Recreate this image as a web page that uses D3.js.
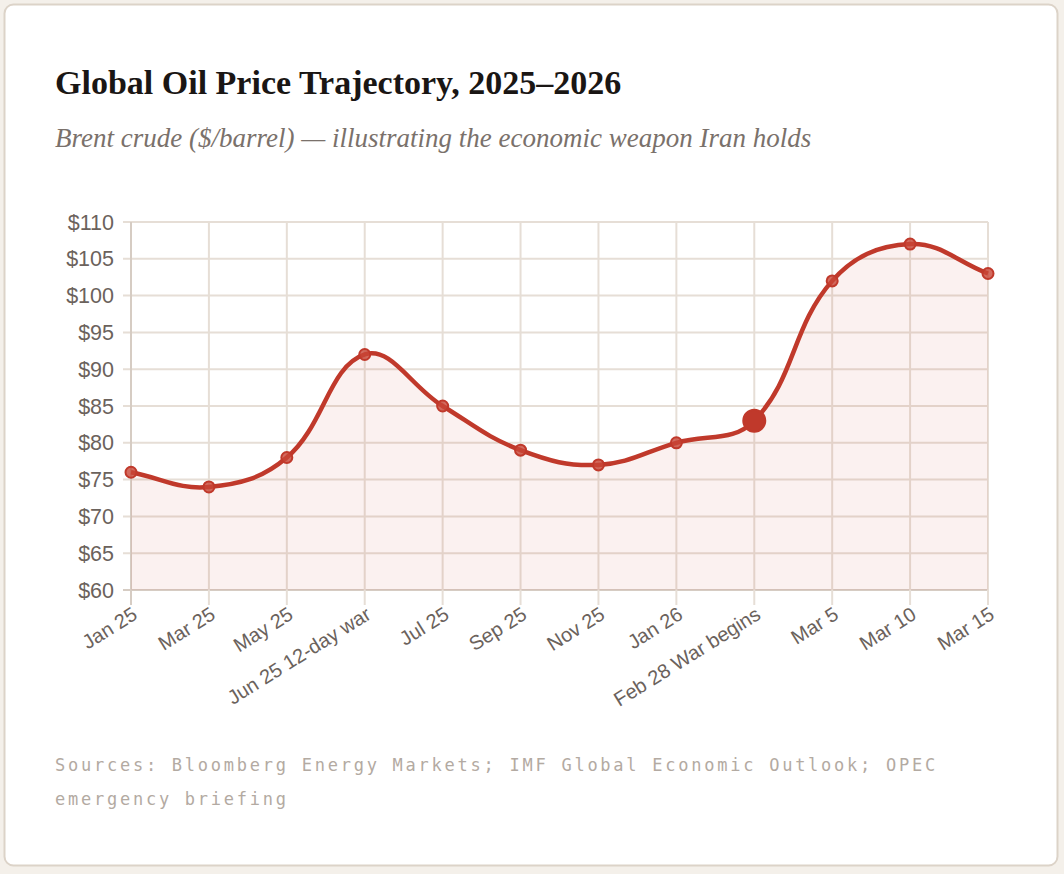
<!DOCTYPE html>
<html>
<head>
<meta charset="utf-8">
<script src="https://cdn.jsdelivr.net/npm/d3@7"></script>
<style>
  html, body { margin: 0; padding: 0; background: #f4f0ea; }
  svg { display: block; }
</style>
</head>
<body>
<svg id="chart" width="1064" height="874"></svg>
<script>
var labels = ['Jan 25', 'Mar 25', 'May 25', 'Jun 25 12-day war', 'Jul 25', 'Sep 25',
              'Nov 25', 'Jan 26', 'Feb 28 War begins', 'Mar 5', 'Mar 10', 'Mar 15'];
var prices = [76, 74, 78, 92, 85, 79, 77, 80, 83, 102, 107, 103];
var highlight = 'Feb 28 War begins';
var yTicks = [60, 65, 70, 75, 80, 85, 90, 95, 100, 105, 110];
var sources = ['Sources: Bloomberg Energy Markets; IMF Global Economic Outlook; OPEC',
               'emergency briefing'];

var svg = d3.select('#chart');
var plotLeft = 131, plotRight = 988, plotTop = 222, plotBottom = 590;
var red = '#c0392b';

// card
svg.append('rect')
   .attr('x', 4.5).attr('y', 4.5).attr('width', 1053).attr('height', 861)
   .attr('rx', 9).attr('fill', '#ffffff')
   .attr('stroke', '#dcd3c8').attr('stroke-width', 2);

svg.append('text')
   .attr('x', 55).attr('y', 94)
   .attr('font-family', '"Liberation Serif", serif').attr('font-weight', 700)
   .attr('font-size', 34).attr('fill', '#1a1614')
   .text('Global Oil Price Trajectory, 2025\u20132026');

svg.append('text')
   .attr('x', 55).attr('y', 147)
   .attr('font-family', '"Liberation Serif", serif').attr('font-style', 'italic')
   .attr('font-size', 27).attr('fill', '#7a716b')
   .text('Brent crude ($/barrel) \u2014 illustrating the economic weapon Iran holds');

var x = d3.scalePoint().domain(labels).range([plotLeft, plotRight]);
var y = d3.scaleLinear().domain([60, 110]).range([plotBottom, plotTop]);

// grid
var g = svg.append('g');
g.selectAll('.hgrid').data(yTicks).enter().append('line')
 .attr('x1', plotLeft - 8).attr('x2', plotRight)
 .attr('y1', d => y(d)).attr('y2', d => y(d))
 .attr('stroke', d => d === 60 ? '#d6ccc3' : '#e6ded6').attr('stroke-width', 2);
g.selectAll('.vgrid').data(labels).enter().append('line')
 .attr('x1', d => x(d)).attr('x2', d => x(d))
 .attr('y1', plotTop).attr('y2', plotBottom + 15)
 .attr('stroke', (d, i) => i === 0 ? '#d6ccc3' : '#e6ded6').attr('stroke-width', 2);

// y labels
svg.append('g').selectAll('text').data(yTicks).enter().append('text')
   .attr('x', 114).attr('y', d => y(d)).attr('dy', '0.35em')
   .attr('text-anchor', 'end')
   .attr('font-family', '"Liberation Sans", Arial, sans-serif').attr('font-size', 21.5)
   .attr('fill', '#6b625c')
   .text(d => '$' + d);

// x labels
svg.append('g').selectAll('text').data(labels).enter().append('text')
   .attr('transform', d => 'translate(' + (x(d) + 4) + ',' + (plotBottom + 22) + ') rotate(-32)')
   .attr('text-anchor', 'end').attr('dy', '0.35em')
   .attr('font-family', '"Liberation Sans", Arial, sans-serif').attr('font-size', 20)
   .attr('fill', '#6b625c')
   .text(d => d);

// chart.js-like spline through the points
var pts = labels.map((d, i) => [x(d), y(prices[i])]);
function splinePath(p, t) {
  var cps = p.map(function(cur, i) {
    var prev = p[i - 1] || cur, next = p[i + 1] || cur;
    var d01 = Math.hypot(cur[0] - prev[0], cur[1] - prev[1]);
    var d12 = Math.hypot(next[0] - cur[0], next[1] - cur[1]);
    var s01 = d01 / (d01 + d12) || 0, s12 = d12 / (d01 + d12) || 0;
    var fa = t * s01, fb = t * s12;
    var cl = [cur[0] - fa * (next[0] - prev[0]), cur[1] - fa * (next[1] - prev[1])];
    var cn = [cur[0] + fb * (next[0] - prev[0]), cur[1] + fb * (next[1] - prev[1])];
    cl[1] = Math.max(plotTop, Math.min(plotBottom, cl[1]));
    cn[1] = Math.max(plotTop, Math.min(plotBottom, cn[1]));
    return { prev: cl, next: cn };
  });
  var path = d3.path();
  path.moveTo(p[0][0], p[0][1]);
  for (var i = 1; i < p.length; i++) {
    path.bezierCurveTo(cps[i - 1].next[0], cps[i - 1].next[1], cps[i].prev[0], cps[i].prev[1], p[i][0], p[i][1]);
  }
  return path.toString();
}
var lineD = splinePath(pts, 0.4);

svg.append('path')
   .attr('d', lineD + 'L' + plotRight + ',' + plotBottom + 'L' + plotLeft + ',' + plotBottom + 'Z')
   .attr('fill', 'rgba(192,57,43,0.07)');

svg.append('path')
   .attr('d', lineD)
   .attr('fill', 'none').attr('stroke', red).attr('stroke-width', 4.5);

svg.append('g').selectAll('circle').data(labels).enter().append('circle')
   .attr('cx', d => x(d)).attr('cy', (d, i) => y(prices[i]))
   .attr('r', d => d === highlight ? 11 : 5.5)
   .attr('fill', d => d === highlight ? '#c0392b' : 'rgba(200,70,55,0.8)')
   .attr('stroke', red).attr('stroke-width', 2);

// sources
svg.append('g').selectAll('text').data(sources).enter().append('text')
   .attr('x', 55).attr('y', (d, i) => 771 + i * 34)
   .attr('font-family', '"DejaVu Sans Mono", monospace').attr('font-size', 17)
   .attr('letter-spacing', 2.75)
   .attr('fill', '#b3aaa2')
   .text(d => d);
</script>
</body>
</html>
